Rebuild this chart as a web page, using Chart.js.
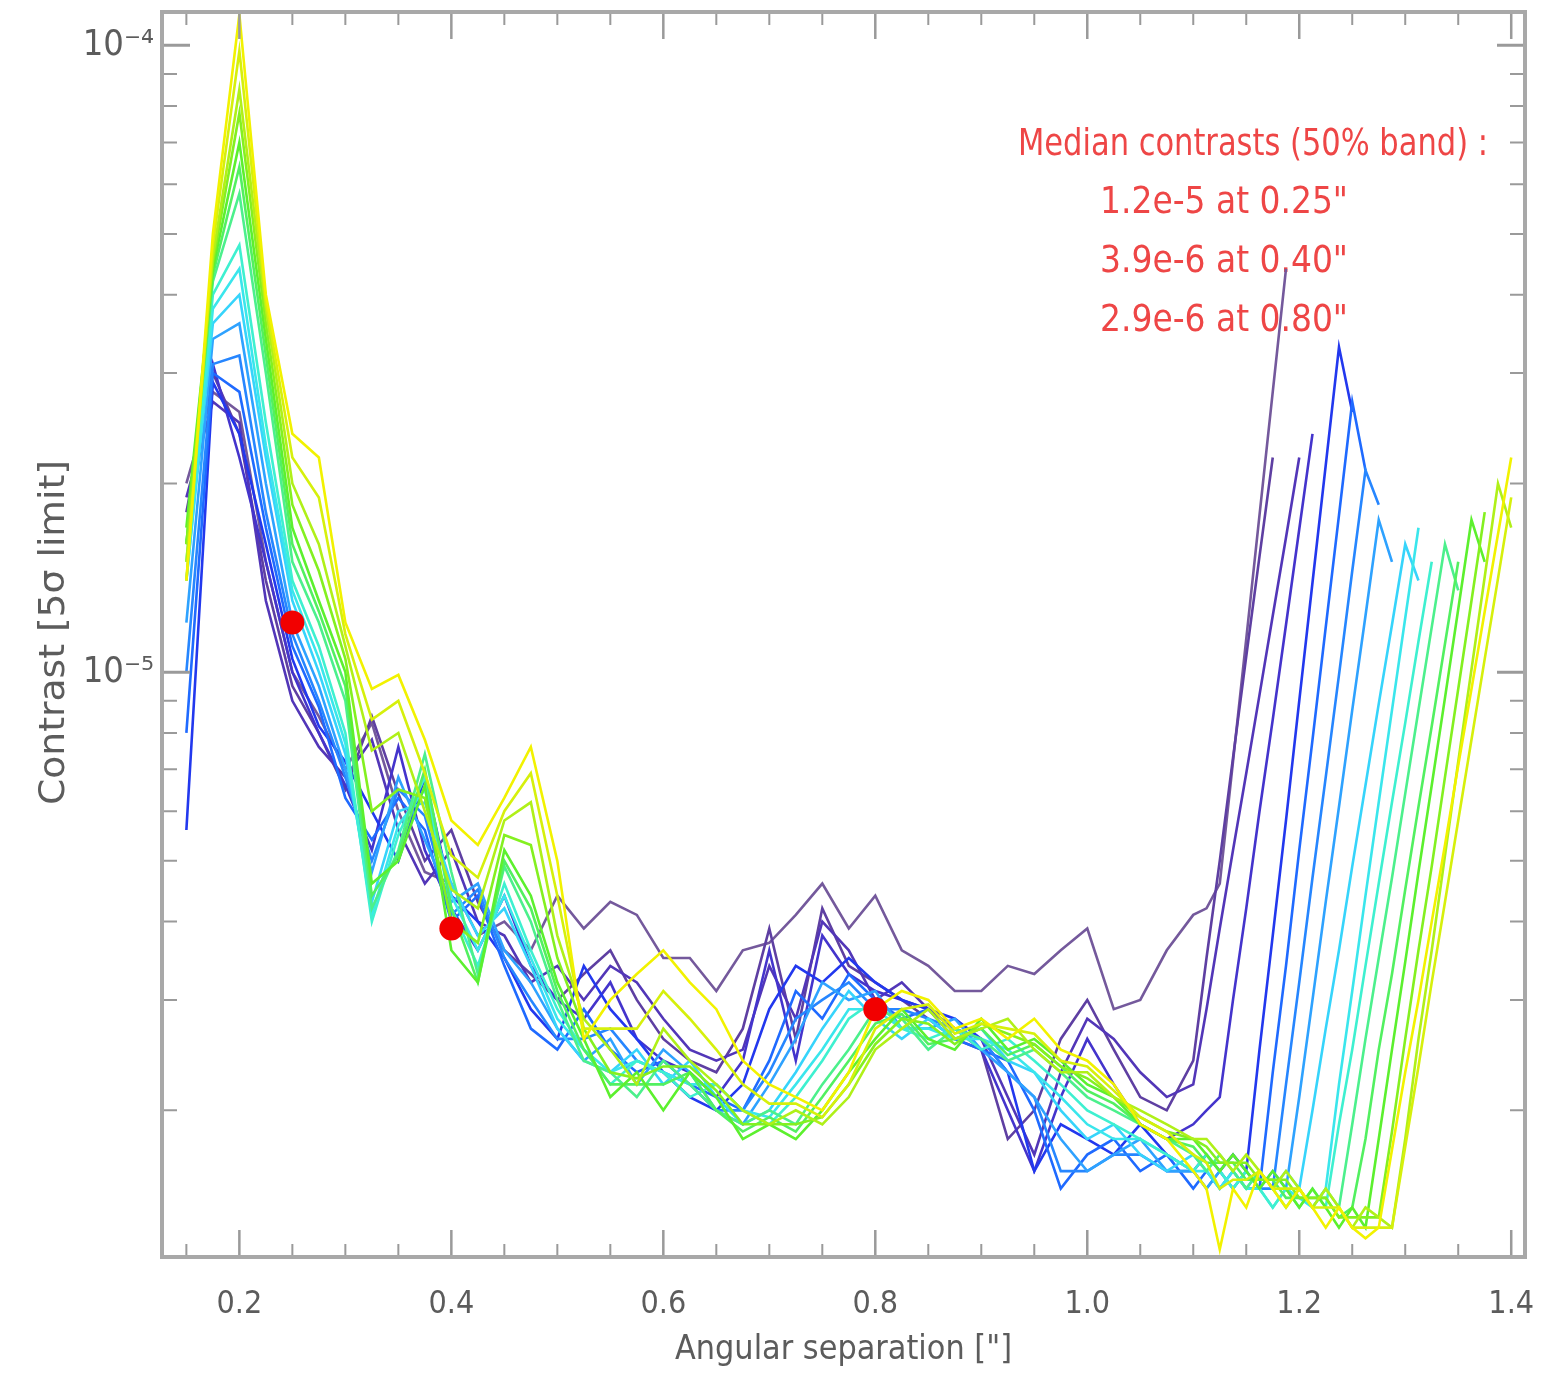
<!DOCTYPE html>
<html>
<head>
<meta charset="utf-8">
<title>Contrast curves</title>
<script src="https://cdn.jsdelivr.net/npm/chart.js@4.4.1/dist/chart.umd.min.js"></script>
<style>
  html, body { margin: 0; padding: 0; background: #fff; }
  #wrap { width: 1558px; height: 1386px; }
</style>
</head>
<body>
<div id="wrap"><canvas id="chart" width="1558" height="1386"></canvas></div>
<script>
// Angular separation grid ["], finer steps past 1.1" where the curves climb
const separation = [
  0.150, 0.175, 0.200, 0.225, 0.250, 0.275, 0.300, 0.325, 0.350, 0.375,
  0.400, 0.425, 0.450, 0.475, 0.500, 0.525, 0.550, 0.575, 0.600, 0.625,
  0.650, 0.675, 0.700, 0.725, 0.750, 0.775, 0.800, 0.825, 0.850, 0.875,
  0.900, 0.925, 0.950, 0.975, 1.000, 1.025, 1.050, 1.075, 1.100,
  1.1125, 1.125, 1.1375, 1.150, 1.1625, 1.175, 1.1875, 1.200, 1.2125, 1.225, 1.2375, 1.250,
  1.2625, 1.275, 1.2875, 1.300, 1.3125, 1.325, 1.3375, 1.350, 1.3625, 1.375, 1.3875, 1.400
];

// Contrast curves, in units of 1e-6 (one per frame, purple -> yellow)
const CONTRAST_UNIT = 1e-6;

const purpleA = [
  20, 28, 26, 15, 10, 8.5, 7.0, 8.3, 6.0, 4.8,
  4.6, 3.8, 4.0, 3.6, 4.4, 3.9, 4.3, 4.1, 3.5, 3.5,
  3.1, 3.6, 3.7, 4.1, 4.6, 3.9, 4.4, 3.6, 3.4, 3.1,
  3.1, 3.4, 3.3, 3.6, 3.9, 2.9, 3.0, 3.6, 4.1,
  4.2, 4.6, 7.2, 11.3, 17.8, 28, 44
];
const purpleB = [
  18, 30, 24, 14, 9.5, 8.0, 6.5, 8.5, 6.4, 5.0,
  5.6, 4.3, 3.6, 3.3, 3.0, 3.3, 3.6, 3.0, 2.6, 2.4,
  2.3, 2.7, 3.9, 2.6, 4.2, 3.4, 3.2, 3.0, 2.8, 2.6,
  2.5, 1.8, 2.0, 2.6, 3.0, 2.5, 2.1, 2.0, 2.4,
  3.5, 5.0, 7.3, 10.6, 15.3, 22
];
const purpleC = [
  19, 27, 25, 13, 9.0, 7.6, 6.8, 7.8, 5.6, 4.6,
  5.2, 4.0, 3.8, 3.2, 3.4, 3.0, 3.4, 3.2, 2.8, 2.5,
  2.4, 2.5, 3.4, 2.8, 4.0, 3.6, 3.0, 3.2, 2.9, 2.7,
  2.6, 2.1, 1.7, 2.3, 2.8, 2.6, 2.3, 2.1, 2.2,
  2.9, 3.9, 5.2, 6.9, 9.2, 12.3, 16.4, 22
];
const indigo = [
  16, 31, 22, 15, 10, 8.0, 6.6, 5.2, 7.6, 5.2,
  4.2, 3.6, 4.4, 3.4, 3.0, 2.8, 3.2, 2.6, 2.4, 2.3,
  2.1, 2.4, 3.6, 2.4, 3.8, 3.3, 3.1, 3.0, 2.9, 2.7,
  2.5, 2.0, 1.6, 2.1, 2.6, 2.2, 1.9, 1.8, 1.9,
  2.0, 2.1, 3.0, 4.2, 6.0, 8.4, 11.9, 16.9, 24
];
const blueA = [
  5.6, 29, 24, 16, 10.5, 8.2, 7.2, 6.0, 5.0, 6.8,
  4.4, 4.0, 3.5, 2.9, 2.6, 3.4, 2.9, 2.6, 2.3, 2.1,
  2.0, 2.2, 2.9, 3.4, 3.2, 3.5, 3.2, 3.0, 2.9, 2.8,
  2.6, 2.3, 1.6, 1.9, 1.8, 1.7, 1.9, 1.7, 1.6,
  1.7, 1.6, 1.7, 1.6, 2.5, 3.8, 5.8, 9.0, 13.9, 21.4, 33, 26
];
const blueB = [
  8, 30, 28, 17, 11, 8.8, 6.3, 5.4, 6.3, 5.6,
  4.0, 4.4, 3.4, 2.7, 2.5, 2.9, 2.5, 2.3, 2.4, 2.2,
  2.1, 2.0, 2.4, 3.1, 2.8, 3.3, 3.0, 2.8, 2.9, 2.6,
  2.5, 2.4, 2.0, 1.5, 1.7, 1.8, 1.6, 1.7, 1.5,
  1.6, 1.5, 1.6, 1.5, 1.5, 2.3, 3.4, 5.2, 7.8, 11.8, 17.8, 27,
  21
];
const blueC = [
  10, 31, 32, 18, 11.5, 9.0, 6.8, 5.0, 6.5, 5.9,
  4.1, 4.5, 3.5, 3.0, 2.6, 2.6, 2.7, 2.4, 2.3, 2.2,
  2.0, 2.0, 2.3, 2.8, 3.0, 3.2, 2.9, 2.9, 2.8, 2.7,
  2.6, 2.3, 2.1, 1.6, 1.6, 1.7, 1.7, 1.6, 1.6,
  1.5, 1.6, 1.5, 1.6, 1.5, 1.5, 2.2, 3.2, 4.7, 6.8, 9.9, 14.5,
  21, 18.5
];
const azure = [
  12, 34, 36, 20, 12, 9.5, 7.0, 4.8, 6.8, 5.4,
  4.3, 4.6, 3.6, 3.2, 2.7, 2.4, 2.6, 2.2, 2.5, 2.3,
  2.0, 1.9, 2.2, 2.6, 3.2, 3.0, 3.1, 2.7, 2.7, 2.8,
  2.5, 2.3, 2.1, 1.8, 1.6, 1.7, 1.8, 1.6, 1.6,
  1.5, 1.6, 1.5, 1.6, 1.5, 1.6, 1.5, 2.1, 3.0, 4.3, 6.1, 8.7,
  12.3, 17.5, 15
];
const skyCyan = [
  14, 36, 40, 22, 13, 10, 7.4, 4.3, 6.0, 6.2,
  4.6, 3.8, 4.2, 3.4, 2.7, 2.4, 2.3, 2.5, 2.2, 2.4,
  2.1, 1.9, 2.0, 2.3, 2.7, 3.1, 2.8, 2.6, 2.8, 2.6,
  2.7, 2.4, 2.3, 2.0, 1.8, 1.9, 1.7, 1.6, 1.7,
  1.6, 1.5, 1.6, 1.5, 1.6, 1.5, 1.6, 1.5, 2.0, 2.7, 3.6, 4.9,
  6.6, 8.9, 11.9, 16, 14
];
const cyanB = [
  14, 38, 44, 23, 13.5, 10.5, 7.7, 4.1, 5.7, 6.5,
  4.4, 3.6, 4.4, 3.5, 2.8, 2.5, 2.3, 2.4, 2.3, 2.2,
  2.2, 2.0, 1.95, 2.2, 2.5, 2.9, 2.9, 2.7, 2.7, 2.6,
  2.6, 2.5, 2.3, 2.1, 1.9, 1.8, 1.8, 1.7, 1.6,
  1.6, 1.5, 1.6, 1.5, 1.5, 1.4, 1.5, 1.45, 1.4, 1.5, 2.2, 3.1,
  4.4, 6.2, 8.7, 12.2, 17
];
const aqua = [
  15, 40, 48, 25, 14, 11, 8.0, 4.0, 5.5, 6.8,
  4.2, 3.4, 4.6, 3.6, 2.9, 2.5, 2.2, 2.4, 2.3, 2.1,
  2.2, 2.0, 1.9, 2.1, 2.4, 2.8, 3.0, 2.7, 2.6, 2.7,
  2.5, 2.6, 2.4, 2.2, 2.0, 1.9, 1.8, 1.7, 1.6,
  1.7, 1.6, 1.5, 1.6, 1.5, 1.4, 1.5, 1.4, 1.5, 1.4, 1.9, 2.5,
  3.4, 4.6, 6.2, 8.3, 11.2, 15
];
const seaGreen = [
  16, 42, 58, 30, 15, 12, 9.0, 4.2, 5.2, 7.4,
  4.8, 3.3, 4.9, 4.0, 3.0, 2.4, 2.3, 2.1, 2.4, 2.2,
  2.0, 1.9, 2.0, 1.9, 2.2, 2.5, 2.9, 2.8, 2.5, 2.7,
  2.6, 2.4, 2.5, 2.3, 2.1, 2.0, 1.9, 1.8, 1.7,
  1.6, 1.7, 1.6, 1.5, 1.6, 1.5, 1.4, 1.5, 1.4, 1.5, 1.4, 1.9,
  2.6, 3.5, 4.7, 6.4, 8.7, 11.8, 16, 13.5
];
const greenB = [
  16, 43, 64, 32, 16, 12.5, 9.5, 4.4, 5.1, 7.0,
  4.2, 3.2, 5.0, 4.2, 3.1, 2.5, 2.2, 2.2, 2.2, 2.3,
  2.0, 1.85, 1.95, 1.85, 2.1, 2.4, 2.75, 2.85, 2.55, 2.6,
  2.7, 2.45, 2.55, 2.35, 2.15, 2.05, 1.9, 1.8, 1.75,
  1.65, 1.65, 1.65, 1.55, 1.55, 1.55, 1.45, 1.45, 1.45, 1.45, 1.35, 1.4,
  1.8, 2.5, 3.3, 4.5, 6.1, 8.2, 11.1, 15
];
const green = [
  17, 44, 70, 34, 17, 13, 10, 4.6, 5.0, 6.6,
  3.6, 3.2, 5.2, 4.4, 3.2, 2.6, 2.1, 2.3, 2.0, 2.3,
  2.1, 1.8, 1.9, 1.8, 2.0, 2.3, 2.6, 2.9, 2.6, 2.5,
  2.8, 2.5, 2.6, 2.4, 2.2, 2.1, 1.9, 1.8, 1.8,
  1.7, 1.6, 1.7, 1.6, 1.5, 1.6, 1.5, 1.4, 1.5, 1.4, 1.3, 1.4,
  1.3, 1.8, 2.5, 3.45, 4.8, 6.6, 9.1, 12.6, 17.5, 15
];
const greenC = [
  16, 45, 78, 36, 18.5, 14.5, 10.5, 6.0, 6.5, 6.3,
  4.0, 3.7, 5.5, 5.3, 3.5, 2.7, 2.3, 2.25, 2.35, 2.35,
  2.15, 1.9, 1.9, 1.9, 1.95, 2.2, 2.55, 2.8, 2.75, 2.55,
  2.75, 2.65, 2.55, 2.35, 2.25, 2.1, 1.95, 1.85, 1.8,
  1.75, 1.65, 1.65, 1.65, 1.55, 1.55, 1.55, 1.45, 1.45, 1.45, 1.35, 1.35,
  1.35, 1.35, 1.85, 2.6, 3.6, 4.9, 6.8, 9.4, 13, 18
];
const limeYellow = [
  15, 46, 85, 38, 20, 16, 11, 7.5, 8.0, 6.0,
  4.5, 4.2, 5.8, 6.2, 3.8, 2.8, 2.5, 2.2, 2.7, 2.4,
  2.2, 2.0, 1.9, 2.0, 1.9, 2.1, 2.5, 2.7, 2.9, 2.6,
  2.7, 2.8, 2.5, 2.3, 2.3, 2.1, 2.0, 1.9, 1.8,
  1.8, 1.7, 1.6, 1.7, 1.6, 1.5, 1.6, 1.5, 1.4, 1.5, 1.4, 1.3,
  1.4, 1.35, 1.3, 1.8, 2.6, 3.6, 5.1, 7.2, 10.1, 14.2, 20, 17
];
const yellowB = [
  14, 48, 98, 39, 22, 19, 11.5, 8.4, 9.0, 6.9,
  5.1, 4.7, 6.0, 6.9, 4.4, 2.7, 2.7, 2.7, 3.1, 2.8,
  2.5, 2.2, 2.05, 2.05, 1.95, 2.2, 2.7, 2.9, 2.95, 2.65,
  2.75, 2.7, 2.65, 2.4, 2.35, 2.15, 1.95, 1.85, 1.7,
  1.65, 1.5, 1.55, 1.55, 1.6, 1.5, 1.5, 1.5, 1.4, 1.4, 1.4, 1.3,
  1.3, 1.3, 1.3, 1.75, 2.35, 3.2, 4.3, 5.8, 7.8, 10.5, 14.1, 19
];
const yellow = [
  14, 50, 112, 40, 24, 22, 12, 9.4, 9.9, 7.8,
  5.8, 5.3, 6.3, 7.6, 5.0, 2.6, 3.0, 3.3, 3.6, 3.2,
  2.9, 2.4, 2.2, 2.1, 2.0, 2.3, 2.9, 3.1, 3.0, 2.7,
  2.8, 2.6, 2.8, 2.5, 2.4, 2.2, 1.9, 1.8, 1.6,
  1.5, 1.2, 1.5, 1.4, 1.6, 1.5, 1.4, 1.5, 1.4, 1.3, 1.4, 1.3,
  1.25, 1.3, 1.73, 2.3, 3.0, 4.0, 5.3, 7.1, 9.4, 12.5, 16.6, 22
];

// Median contrasts (50% band)
const medianSep = [0.25, 0.40, 0.80];
const medianContrast = [1.2e-5, 3.9e-6, 2.9e-6];

// Tick values
const xMajorTicks = [0.2, 0.4, 0.6, 0.8, 1.0, 1.2, 1.4];
const xMinorTicks = [0.15, 0.25, 0.30, 0.35, 0.45, 0.50, 0.55, 0.65, 0.70, 0.75,
  0.85, 0.90, 0.95, 1.05, 1.10, 1.15, 1.25, 1.30, 1.35];
const yMajorTicks = [1e-5, 1e-4];
const yMinorTicks = [2e-6, 3e-6, 4e-6, 5e-6, 6e-6, 7e-6, 8e-6, 9e-6,
  2e-5, 3e-5, 4e-5, 5e-5, 6e-5, 7e-5, 8e-5, 9e-5];

const curves = [purpleA, purpleB, purpleC, indigo, blueA, blueB, blueC, azure, skyCyan,
  cyanB, aqua, seaGreen, greenB, green, greenC, limeYellow, yellowB, yellow];
const curveColors = ['#74599c', '#5e3fa2', '#5236b8', '#4434cc', '#2238ee', '#1f6aff',
  '#2686ff', '#2ea2ff', '#36d4fb', '#3ae6ec', '#3ef0d0', '#4cf08c', '#52f060', '#5cf02e',
  '#84f020', '#b0f018', '#d6f00c', '#f2f200'];

const NARROW = "'Liberation Sans Narrow', 'DejaVu Sans Condensed', 'Liberation Sans', sans-serif";
const AXIS_GRAY = '#5c5c5c';

const SUPERSCRIPT = { '-': '\u207B', '0': '\u2070', '1': '\u00B9', '2': '\u00B2', '3': '\u00B3',
  '4': '\u2074', '5': '\u2075', '6': '\u2076', '7': '\u2077', '8': '\u2078', '9': '\u2079' };

function powerLabel(v) {
  const exp = String(Math.round(Math.log10(v)));
  return '10' + exp.split('').map(c => SUPERSCRIPT[c]).join('');
}

// Draw text stretched/squeezed to a given width
function fitText(ctx, text, x, y, width, font) {
  ctx.font = font;
  const w = ctx.measureText(text).width;
  ctx.save();
  ctx.translate(x, y);
  ctx.scale(width / w, 1);
  ctx.fillText(text, 0, 0);
  ctx.restore();
}

// IDL-like frame: box with inward ticks on all four sides
const framePlugin = {
  id: 'idlFrame',
  afterDatasetsDraw(chart) {
    const { ctx, chartArea: a, scales } = chart;
    ctx.save();
    ctx.strokeStyle = '#9a9a9a';
    ctx.lineCap = 'butt';

    const xTick = (v, len, w) => {
      const px = scales.x.getPixelForValue(v);
      ctx.lineWidth = w;
      ctx.beginPath();
      ctx.moveTo(px, a.bottom); ctx.lineTo(px, a.bottom - len);
      ctx.moveTo(px, a.top); ctx.lineTo(px, a.top + len);
      ctx.stroke();
    };
    const yTick = (v, len, w) => {
      const py = scales.y.getPixelForValue(v);
      ctx.lineWidth = w;
      ctx.beginPath();
      ctx.moveTo(a.left, py); ctx.lineTo(a.left + len, py);
      ctx.moveTo(a.right, py); ctx.lineTo(a.right - len, py);
      ctx.stroke();
    };
    xMajorTicks.forEach(v => xTick(v, 27, 2.5));
    xMinorTicks.forEach(v => xTick(v, 13, 2));
    yMajorTicks.forEach(v => yTick(v, 28, 3));
    yMinorTicks.forEach(v => yTick(v, 15, 2));

    ctx.strokeStyle = '#a8a8a8';
    ctx.lineWidth = 4;
    ctx.strokeRect(a.left, a.top, a.right - a.left, a.bottom - a.top);
    ctx.restore();
  },
  afterDraw(chart) {
    const { ctx } = chart;
    ctx.save();
    ctx.fillStyle = AXIS_GRAY;
    ctx.textBaseline = 'middle';
    ctx.textAlign = 'left';
    fitText(ctx, 'Angular separation ["]', 675, 1350, 337, '34px ' + NARROW);
    ctx.save();
    ctx.translate(55, 805);
    ctx.rotate(-Math.PI / 2);
    fitText(ctx, 'Contrast [5\u03C3 limit]', 0, 0, 345, '36px ' + NARROW);
    ctx.restore();
    ctx.restore();
  }
};

// Red annotation listing the median contrasts
const notePlugin = {
  id: 'medianNote',
  beforeDatasetsDraw(chart) {
    const { ctx } = chart;
    ctx.save();
    ctx.fillStyle = '#ee4646';
    ctx.textBaseline = 'middle';
    ctx.textAlign = 'left';
    const font = '38px ' + NARROW;
    fitText(ctx, 'Median contrasts (50% band) :', 1018, 145, 470, font);
    medianSep.forEach((sep, i) => {
      const line = medianContrast[i].toExponential(1) + ' at ' + sep.toFixed(2) + '"';
      fitText(ctx, line, 1100, 203 + i * 59, 248, font);
    });
    ctx.restore();
  }
};

const datasets = curves.map((vals, k) => ({
  label: 'frame ' + (k + 1),
  data: vals.map((v, i) => ({ x: separation[i], y: v * CONTRAST_UNIT })),
  showLine: true,
  borderColor: curveColors[k],
  borderWidth: 2.6,
  pointRadius: 0,
  tension: 0,
  order: curves.length - k
}));

datasets.push({
  label: 'median',
  data: medianSep.map((x, i) => ({ x: x, y: medianContrast[i] })),
  showLine: false,
  pointRadius: 12,
  pointStyle: 'circle',
  backgroundColor: '#f20000',
  borderWidth: 0,
  order: -1
});

new Chart(document.getElementById('chart'), {
  type: 'scatter',
  data: { datasets: datasets },
  options: {
    responsive: false,
    animation: false,
    devicePixelRatio: 1,
    layout: { padding: { top: 12, right: 33, left: 0, bottom: 0 } },
    plugins: {
      legend: { display: false },
      tooltip: { enabled: false }
    },
    scales: {
      x: {
        type: 'linear',
        min: 0.127,
        max: 1.413,
        grid: { display: false, drawTicks: false },
        border: { display: false },
        afterBuildTicks: s => { s.ticks = xMajorTicks.map(v => ({ value: v })); },
        afterFit: s => {
          s.height = 129;
          s.paddingLeft = 0; s.paddingRight = 0;
        },
        ticks: {
          padding: 28,
          color: AXIS_GRAY,
          autoSkip: false,
          maxRotation: 0,
          font: { family: NARROW, size: 32 },
          callback: v => Number(v).toFixed(1)
        }
      },
      y: {
        type: 'logarithmic',
        min: 1.167e-6,
        max: 1.13e-4,
        grid: { display: false, drawTicks: false },
        border: { display: false },
        afterBuildTicks: s => { s.ticks = yMajorTicks.map(v => ({ value: v })); },
        afterFit: s => {
          s.width = 162;
          s.paddingTop = 0; s.paddingBottom = 0;
        },
        ticks: {
          padding: 8,
          color: AXIS_GRAY,
          autoSkip: false,
          font: { family: NARROW, size: 36 },
          callback: v => powerLabel(v)
        }
      }
    }
  },
  plugins: [framePlugin, notePlugin]
});
</script>
</body>
</html>
